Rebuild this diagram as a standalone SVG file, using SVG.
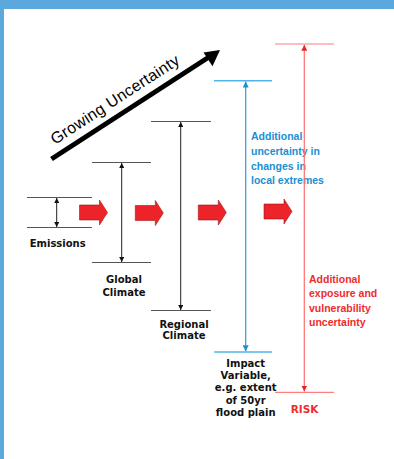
<svg xmlns="http://www.w3.org/2000/svg" width="394" height="459" viewBox="0 0 394 459">
<defs>
<style>
.lbl{font-family:"DejaVu Sans",Verdana,sans-serif;font-weight:bold;font-size:10px;fill:#111;text-anchor:middle}
.blue{font-family:"Liberation Sans",Arial,sans-serif;font-weight:bold;font-size:10.5px;fill:#1a8fd2}
.red{font-family:"Liberation Sans",Arial,sans-serif;font-weight:bold;font-size:10.5px;fill:#ee2b2b}
.hk{stroke:#555;stroke-width:1}
.vk{stroke:#222;stroke-width:1}
.hb{stroke:#52b4e8;stroke-width:1.5}
.vb{stroke:#2a9ad8;stroke-width:1.2}
.hr{stroke:#ff7f7f;stroke-width:1.2}
.vr{stroke:#ff6f6f;stroke-width:1.2}
.blk{fill:#ec2328;stroke:#a51515;stroke-width:0.6}
</style>
<marker id="ak" viewBox="0 0 10 10" refX="10" refY="5" markerWidth="5" markerHeight="5" orient="auto-start-reverse"><path d="M0,0 L10,5 L0,10 z" fill="#111"/></marker>
<marker id="ab" viewBox="0 0 10 10" refX="10" refY="5" markerWidth="5" markerHeight="5" orient="auto-start-reverse"><path d="M0,0 L10,5 L0,10 z" fill="#1a8fd2"/></marker>
<marker id="ar" viewBox="0 0 10 10" refX="10" refY="5" markerWidth="5" markerHeight="5" orient="auto-start-reverse"><path d="M0,0 L10,5 L0,10 z" fill="#e8232a"/></marker>
<path id="blockArrow" d="M0,5 L20,5 L20,0 L28,12.5 L20,25 L20,20 L0,20 z"/>
</defs>
<rect x="0" y="0" width="394" height="459" fill="#fff"/>
<rect x="0" y="0" width="394" height="9" fill="#5ba8dc"/>
<rect x="0" y="0" width="4" height="459" fill="#5ba8dc"/>

<g id="growing">
<line x1="51.5" y1="159" x2="209" y2="57" stroke="#000" stroke-width="5"/>
<path d="M220,50 L203.5,52.5 L212.5,66.3 z" fill="#000"/>
<text x="54.9" y="144.9" transform="rotate(-33 54.9 144.9)" font-family="Liberation Sans, Arial, sans-serif" font-size="16" textLength="150" fill="#000">Growing Uncertainty</text>
</g>

<g id="connectors">
<use href="#blockArrow" x="79.5" y="200" class="blk"/>
<use href="#blockArrow" x="135.3" y="200.5" class="blk"/>
<use href="#blockArrow" x="198.3" y="200" class="blk"/>
<use href="#blockArrow" x="264" y="199" class="blk"/>
</g>

<g id="emissions">
<line class="hk" x1="27" y1="197.5" x2="92" y2="197.5"/>
<line class="hk" x1="27" y1="227.5" x2="92" y2="227.5"/>
<line class="vk" x1="56.7" y1="198" x2="56.7" y2="227" marker-start="url(#ak)" marker-end="url(#ak)"/>
<text class="lbl" x="57.7" y="246.5">Emissions</text>
</g>

<g id="global">
<line class="hk" x1="92" y1="162.5" x2="151" y2="162.5"/>
<line class="hk" x1="92" y1="262.5" x2="151" y2="262.5"/>
<line class="vk" x1="121.7" y1="163" x2="121.7" y2="262" marker-start="url(#ak)" marker-end="url(#ak)"/>
<text class="lbl" x="124" y="282.5">Global</text>
<text class="lbl" x="124" y="295.5">Climate</text>
</g>

<g id="regional">
<line class="hk" x1="151" y1="121.5" x2="211" y2="121.5"/>
<line class="hk" x1="151" y1="310.5" x2="211" y2="310.5"/>
<line class="vk" x1="180.7" y1="122" x2="180.7" y2="310" marker-start="url(#ak)" marker-end="url(#ak)"/>
<text class="lbl" x="184" y="327.5">Regional</text>
<text class="lbl" x="184" y="339">Climate</text>
</g>

<g id="impact">
<line class="hb" x1="214" y1="80.7" x2="272" y2="80.7"/>
<line class="hb" x1="214" y1="352" x2="272" y2="352"/>
<line class="vb" x1="245.7" y1="81.5" x2="245.7" y2="351.3" marker-start="url(#ab)" marker-end="url(#ab)"/>
<text class="blue" x="251" y="140">Additional</text>
<text class="blue" x="251" y="154.5">uncertainty in</text>
<text class="blue" x="251" y="169.5">changes in</text>
<text class="blue" x="251" y="184">local extremes</text>
<text class="lbl" x="245.7" y="366.7">Impact</text>
<text class="lbl" x="245.7" y="379">Variable,</text>
<text class="lbl" x="245.7" y="391.2">e.g. extent</text>
<text class="lbl" x="245.7" y="403.5">of 50yr</text>
<text class="lbl" x="245.7" y="415.7">flood plain</text>
</g>

<g id="risk">
<line class="hr" x1="275" y1="44" x2="334" y2="44"/>
<line class="hr" x1="275" y1="392.3" x2="334" y2="392.3"/>
<line class="vr" x1="304.3" y1="44.8" x2="304.3" y2="391.5" marker-start="url(#ar)" marker-end="url(#ar)"/>
<text class="red" x="309" y="282.7">Additional</text>
<text class="red" x="309" y="297">exposure and</text>
<text class="red" x="309" y="312">vulnerability</text>
<text class="red" x="309" y="326">uncertainty</text>
<text class="lbl" x="304.5" y="412.5" style="fill:#ee2b2b;font-size:10.5px">RISK</text>
</g>
</svg>
